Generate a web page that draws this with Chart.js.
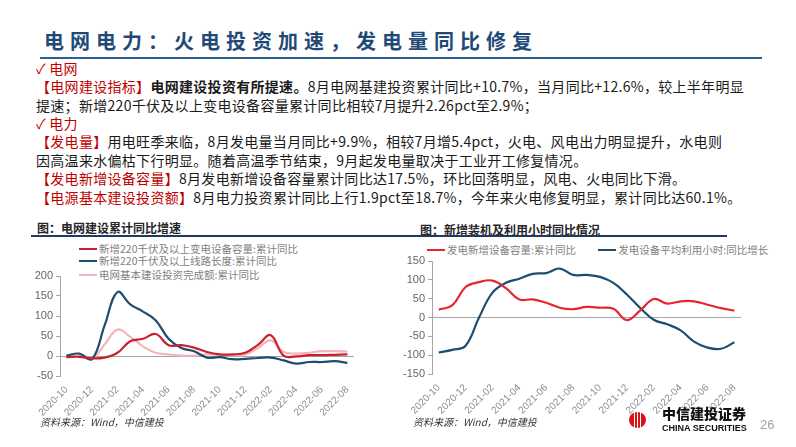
<!DOCTYPE html>
<html lang="zh-CN">
<head>
<meta charset="UTF-8">
<title>电网电力：火电投资加速，发电量同比修复</title>
<script src="https://cdn.jsdelivr.net/npm/chart.js"></script>
<style>
  body { margin: 0; width: 796px; height: 447px; position: relative; overflow: hidden; background: #fff;
         font-family: "Noto Sans CJK SC", sans-serif; }
  .abs { position: absolute; white-space: nowrap; }
  #title { left: 44px; top: 27px; font-size: 20px; line-height: 28px; font-weight: 700; color: #1F4A78; letter-spacing: 6px; }
  #titleRule { left: 40px; top: 57px; width: 722px; height: 2px; background: #2F5F8C; }
  #body { left: 36px; top: 58.8px; font-size: 14px; line-height: 18.4px; color: #1a1a1a; letter-spacing: 0.3px; }
  #body .red { color: #C00000; }
  #body b { font-weight: 700; }
  .chartTitle { font-size: 12px; font-weight: 700; color: #262626; line-height: 16px; }
  #chartRule { left: 31px; top: 235px; width: 696px; height: 2px; background: #1F3864; }
  .legend { font-size: 10.5px; color: #7f7f7f; line-height: 13px; }
  .legend i { display: inline-block; width: 18px; height: 2.5px; vertical-align: middle; margin-right: 2px; position: relative; top: -1px; }
  .source { font-size: 10px; font-style: italic; color: #333; line-height: 14px; }
  canvas { position: absolute; }
  #logo { left: 629px; top: 412px; width: 17px; height: 16px; border-radius: 50%;
          background: linear-gradient(90deg, #D7141A 0 28%, #fff 28% 36%, #D7141A 36% 46%, #fff 46% 54%, #D7141A 54% 64%, #fff 64% 72%, #D7141A 72% 100%); }
</style>
</head>
<body>
<div id="title" class="abs">电网电力：火电投资加速，发电量同比修复</div>
<div id="titleRule" class="abs"></div>
<div id="body" class="abs">
  <div class="red">✓ 电网</div>
  <div><span class="red">【电网建设指标】</span><b>电网建设投资有所提速。</b>8月电网基建投资累计同比+10.7%，当月同比+12.6%，较上半年明显</div>
  <div>提速；新增220千伏及以上变电设备容量累计同比相较7月提升2.26pct至2.9%；</div>
  <div class="red">✓ 电力</div>
  <div><span class="red">【发电量】</span>用电旺季来临，8月发电量当月同比+9.9%，相较7月增5.4pct，火电、风电出力明显提升，水电则</div>
  <div>因高温来水偏枯下行明显。随着高温季节结束，9月起发电量取决于工业开工修复情况。</div>
  <div><span class="red">【发电新增设备容量】</span>8月发电新增设备容量累计同比达17.5%，环比回落明显，风电、火电同比下滑。</div>
  <div><span class="red">【电源基本建设投资额】</span>8月电力投资累计同比上行1.9pct至18.7%，今年来火电修复明显，累计同比达60.1%。</div>
</div>

<div class="abs chartTitle" style="left:37px; top:220px;">图：电网建设累计同比增速</div>
<div class="abs chartTitle" style="left:420px; top:222px;">图：新增装机及利用小时同比情况</div>
<div id="chartRule" class="abs"></div>

<div class="abs legend" style="left:79px; top:242px;"><i style="background:#C8202F"></i>新增220千伏及以上变电设备容量:累计同比</div>
<div class="abs legend" style="left:79px; top:254px;"><i style="background:#1D4E6E"></i>新增220千伏及以上线路长度:累计同比</div>
<div class="abs legend" style="left:79px; top:268px;"><i style="background:#F5B3BB"></i>电网基本建设投资完成额:累计同比</div>
<div class="abs legend" style="left:427px; top:243px;"><i style="background:#E6262C"></i>发电新增设备容量:累计同比 <i style="background:#1D4E6E; margin-left:20px"></i>发电设备平均利用小时:同比增长</div>

<canvas id="gridChart" style="left:20px; top:266px;" width="344" height="152"></canvas>
<canvas id="powerChart" style="left:392px; top:251px;" width="359" height="163"></canvas>

<div class="abs source" style="left:40px; top:415px;">资料来源：Wind，中信建投</div>
<div class="abs source" style="left:413px; top:415px;">资料来源：Wind，中信建投</div>

<div id="logo" class="abs"></div>
<div class="abs" style="left:662px; top:404px; font-size:14px; line-height:18px; font-weight:900; color:#111;">中信建投证券</div>
<div class="abs" style="left:662px; top:422px; font-size:9px; line-height:12px; font-weight:700; color:#111; font-family:'Liberation Sans', sans-serif;">CHINA SECURITIES</div>
<div class="abs" style="left:760px; top:416px; font-size:13px; line-height:18px; color:#a0a0a0; font-family:'Liberation Sans', sans-serif;">26</div>

<script>
  // months 2020-10 .. 2022-08
  const months = ['2020-10', '2020-11', '2020-12', '2021-01', '2021-02', '2021-03', '2021-04', '2021-05',
    '2021-06', '2021-07', '2021-08', '2021-09', '2021-10', '2021-11', '2021-12', '2022-01', '2022-02',
    '2022-03', '2022-04', '2022-05', '2022-06', '2022-07', '2022-08'];

  // left chart: 电网建设累计同比 (%)
  const substationCapacity = [-3, -2, -6, -4, 8, 37, 43, 55, 27, 27, 21, 10, 4, 4, 8, 28, 52, 1, -1, 2, 2, 3, 4];
  const lineLength = [1, 6, -8, 77, 160, 129, 111, 89, 43, 20, 12, -4, -3, -8, -7, -5, -4, -11, -19, -15, -15, -13, -17];
  const gridInvestment = [-2, 0, -7, 29, 66, 48, 24, 8, 4, 1, 1, 4, 3, 2, 4, 20, 39, 10, 6, 8, 12, 12, 11];

  // right chart: 新增装机及利用小时同比 (%)
  const newCapacity = [21, 32, 81, 94, 98, 78, 48, 48, 39, 26, 22, 28, 26, 23, -7, 19, 49, 37, 43, 43, 34, 25, 18];
  const utilizationHours = [-93, -86, -75, 0, 66, 92, 103, 116, 118, 130, 113, 113, 108, 92, 61, 25, -6, -18, -34, -64, -80, -83, -66];

  const axisGrey = '#a6a6a6';
  const numFont = { family: "'Liberation Sans', 'Noto Sans CJK SC', sans-serif", size: 11 };

  function line(data, color) {
    return { data: data, borderColor: color, borderWidth: 2.2, pointRadius: 0, tension: 0.4, fill: false };
  }

  function makeChart(id, datasets, yMin, yMax, yWidth, xHeight) {
    return new Chart(document.getElementById(id), {
      type: 'line',
      data: { labels: months, datasets: datasets },
      options: {
        responsive: false,
        animation: false,
        layout: { padding: { top: 10, right: 6, left: 0, bottom: 0 } },
        plugins: { legend: { display: false }, tooltip: { enabled: false } },
        scales: {
          x: {
            offset: true,
            grid: { display: false, drawTicks: false },
            border: { display: false },
            ticks: {
              autoSkip: false, minRotation: 45, maxRotation: 45, padding: 8,
              color: '#8c8c8c', font: { family: numFont.family, size: 10 },
              callback: function (v, i) { return i % 2 === 0 ? this.getLabelForValue(v) : ''; }
            },
            afterFit: s => { s.height = xHeight; }
          },
          y: {
            min: yMin, max: yMax,
            ticks: { stepSize: 50, padding: 3, color: '#666', font: numFont },
            grid: {
              color: c => (c.tick && c.tick.value === 0 ? axisGrey : 'rgba(0,0,0,0)'),
              tickColor: axisGrey, tickLength: 4, lineWidth: 1
            },
            border: { display: true, color: axisGrey },
            afterFit: s => { s.width = yWidth; }
          }
        }
      }
    });
  }

  makeChart('gridChart', [
    line(substationCapacity, '#C8202F'),
    line(lineLength, '#1D4E6E'),
    line(gridInvestment, '#F5B3BB')
  ], -50, 200, 40, 42);

  makeChart('powerChart', [
    line(newCapacity, '#E6262C'),
    line(utilizationHours, '#1D4E6E')
  ], -150, 150, 40, 40);
</script>
</body>
</html>
